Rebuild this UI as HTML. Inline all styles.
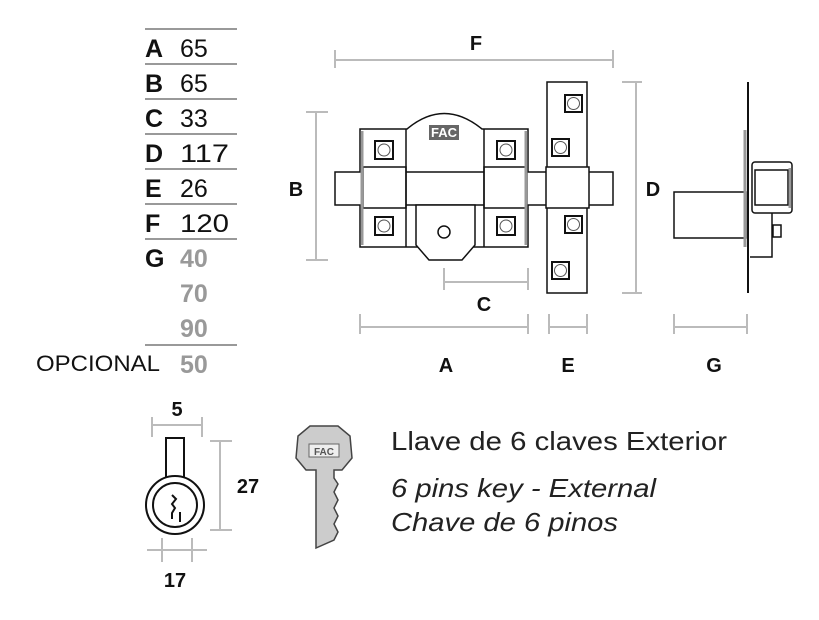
<!DOCTYPE html>
<html><head><meta charset="utf-8"><style>
html,body{margin:0;padding:0;background:#fff;width:819px;height:620px;overflow:hidden}
svg{display:block}
text{font-family:"Liberation Sans",sans-serif}
</style></head><body>
<svg width="819" height="620" viewBox="0 0 819 620" xmlns="http://www.w3.org/2000/svg">
<!-- table -->
<g stroke="#333" stroke-width="1">
<line x1="145" y1="29" x2="237" y2="29"/><line x1="145" y1="64" x2="237" y2="64"/>
<line x1="145" y1="99" x2="237" y2="99"/><line x1="145" y1="134" x2="237" y2="134"/>
<line x1="145" y1="169" x2="237" y2="169"/><line x1="145" y1="204" x2="237" y2="204"/>
<line x1="145" y1="239" x2="237" y2="239"/><line x1="145" y1="345" x2="237" y2="345"/>
</g>
<g font-size="25" fill="#111">
<text x="145" y="57" font-weight="bold">A</text><text x="180" y="57">65</text>
<text x="145" y="92" font-weight="bold">B</text><text x="180" y="92">65</text>
<text x="145" y="127" font-weight="bold">C</text><text x="180" y="127">33</text>
<text x="145" y="162" font-weight="bold">D</text><text x="180" y="162" textLength="49" lengthAdjust="spacingAndGlyphs">117</text>
<text x="145" y="197" font-weight="bold">E</text><text x="180" y="197">26</text>
<text x="145" y="232" font-weight="bold">F</text><text x="180" y="232" textLength="49" lengthAdjust="spacingAndGlyphs">120</text>
<text x="145" y="267" font-weight="bold">G</text>
</g>
<g font-size="25" fill="#999" font-weight="bold">
<text x="180" y="267">40</text><text x="180" y="302">70</text><text x="180" y="337">90</text><text x="180" y="373">50</text>
</g>
<text x="36" y="371" font-size="22" fill="#111" textLength="124" lengthAdjust="spacingAndGlyphs">OPCIONAL</text>

<!-- dimension lines -->
<g stroke="#bbb" stroke-width="2" fill="none">
<line x1="335" y1="60" x2="613" y2="60"/><line x1="335" y1="50" x2="335" y2="68"/><line x1="613" y1="50" x2="613" y2="68"/>
<line x1="316" y1="112" x2="316" y2="260"/><line x1="306" y1="112" x2="328" y2="112"/><line x1="306" y1="260" x2="328" y2="260"/>
<line x1="444" y1="282" x2="528" y2="282"/><line x1="444" y1="268" x2="444" y2="290"/><line x1="528" y1="268" x2="528" y2="290"/>
<line x1="360" y1="327" x2="528" y2="327"/><line x1="360" y1="314" x2="360" y2="334"/><line x1="528" y1="314" x2="528" y2="334"/>
<line x1="549" y1="327" x2="587" y2="327"/><line x1="549" y1="314" x2="549" y2="334"/><line x1="587" y1="314" x2="587" y2="334"/>
<line x1="636" y1="82" x2="636" y2="293"/><line x1="622" y1="82" x2="642" y2="82"/><line x1="622" y1="293" x2="642" y2="293"/>
<line x1="674" y1="327" x2="747" y2="327"/><line x1="674" y1="314" x2="674" y2="334"/><line x1="747" y1="314" x2="747" y2="334"/>
<line x1="152" y1="425" x2="202" y2="425"/><line x1="152" y1="417" x2="152" y2="437"/><line x1="202" y1="417" x2="202" y2="437"/>
<line x1="220" y1="441" x2="220" y2="530"/><line x1="210" y1="441" x2="232" y2="441"/><line x1="210" y1="530" x2="232" y2="530"/>
<line x1="147" y1="550" x2="207" y2="550"/><line x1="162" y1="538" x2="162" y2="562"/><line x1="192" y1="538" x2="192" y2="562"/>
</g>
<g font-size="20" font-weight="bold" fill="#111" text-anchor="middle">
<text x="476" y="50">F</text><text x="296" y="196">B</text><text x="484" y="311">C</text>
<text x="446" y="372">A</text><text x="568" y="372">E</text><text x="653" y="196">D</text><text x="714" y="372">G</text>
<text x="177" y="416">5</text><text x="248" y="493">27</text><text x="175" y="587">17</text>
</g>

<!-- main lock -->
<g stroke="#111" stroke-width="1.5" fill="#fff">
<path d="M360 129 H407 Q444 98 482 129 H528 V247 H360 Z"/>
<rect x="335" y="172" width="278" height="33"/>
<path d="M416 205 H475 V245 L462 260 H429 L416 245 Z"/>
<circle cx="444" cy="232" r="6"/>
<rect x="363" y="167" width="43" height="41"/>
<rect x="484" y="167" width="43" height="41"/>
<line x1="406" y1="129" x2="406" y2="247"/><line x1="484" y1="129" x2="484" y2="247"/>
<rect x="547" y="82" width="40" height="211"/>
<rect x="546" y="167" width="43" height="41"/>
</g>
<g stroke="#999" stroke-width="3" fill="none">
<line x1="362" y1="131" x2="362" y2="245"/><line x1="526" y1="131" x2="526" y2="245"/>
</g>
<g stroke="#111" stroke-width="2" fill="#fff">
<rect x="375" y="141" width="18" height="18"/><rect x="375" y="217" width="18" height="18"/>
<rect x="497" y="141" width="18" height="18"/><rect x="497" y="217" width="18" height="18"/>
<rect x="565" y="95" width="17" height="17"/><rect x="552" y="139" width="17" height="17"/>
<rect x="565" y="216" width="17" height="17"/><rect x="552" y="262" width="17" height="17"/>
</g>
<g stroke="#555" stroke-width="1" fill="none">
<circle cx="384" cy="150" r="6"/><circle cx="384" cy="226" r="6"/><circle cx="506" cy="150" r="6"/><circle cx="506" cy="226" r="6"/>
<circle cx="573.5" cy="103.5" r="6"/><circle cx="560.5" cy="147.5" r="6"/><circle cx="573.5" cy="224.5" r="6"/><circle cx="560.5" cy="270.5" r="6"/>
</g>
<rect x="429" y="125" width="30" height="15" fill="#666"/>
<text x="444" y="137" font-size="13" font-weight="bold" fill="#fff" text-anchor="middle">FAC</text>

<!-- side view -->
<g stroke="#111" stroke-width="1.5" fill="none">
<rect x="674" y="192" width="72" height="46" fill="#fff"/>
<rect x="752" y="162" width="40" height="51" rx="3"/>
<rect x="755" y="170" width="33" height="35"/>
<rect x="773" y="225" width="8" height="12"/>
<polyline points="772,213 772,257 750,257"/>
<line x1="748" y1="82" x2="748" y2="293" stroke-width="2"/>
</g>
<line x1="745" y1="130" x2="745" y2="247" stroke="#999" stroke-width="3"/>
<line x1="790" y1="168" x2="790" y2="208" stroke="#999" stroke-width="3"/>

<!-- cylinder -->
<g stroke="#111" stroke-width="2" fill="#fff">
<rect x="166" y="438" width="18" height="40"/>
<circle cx="175" cy="505" r="29"/>
<circle cx="175" cy="505" r="22"/>
<path d="M172 495 l4 4 -4 5 3 4 -3 5 v6 M180 512 v10" fill="none"/>
</g>

<!-- key -->
<g stroke="#444" stroke-width="1.5" fill="#ccc">
<path d="M316 548 V470 H306 L296 458 L298 436 L310 426 H338 L350 436 L352 458 L342 470 H334 V478 L338 484 L334 492 L338 500 L334 508 L338 516 L334 524 L338 532 L334 540 Z"/>
</g>
<rect x="309" y="444" width="30" height="13" fill="#eee" stroke="#666"/>
<text x="324" y="455" font-size="10" font-weight="bold" fill="#555" text-anchor="middle">FAC</text>

<!-- text -->
<g font-size="26" fill="#222">
<text x="391" y="450" textLength="336" lengthAdjust="spacingAndGlyphs">Llave de 6 claves Exterior</text>
<text x="391" y="497" font-style="italic" textLength="265" lengthAdjust="spacingAndGlyphs">6 pins key - External</text>
<text x="391" y="531" font-style="italic" textLength="227" lengthAdjust="spacingAndGlyphs">Chave de 6 pinos</text>
</g>
</svg>
</body></html>
